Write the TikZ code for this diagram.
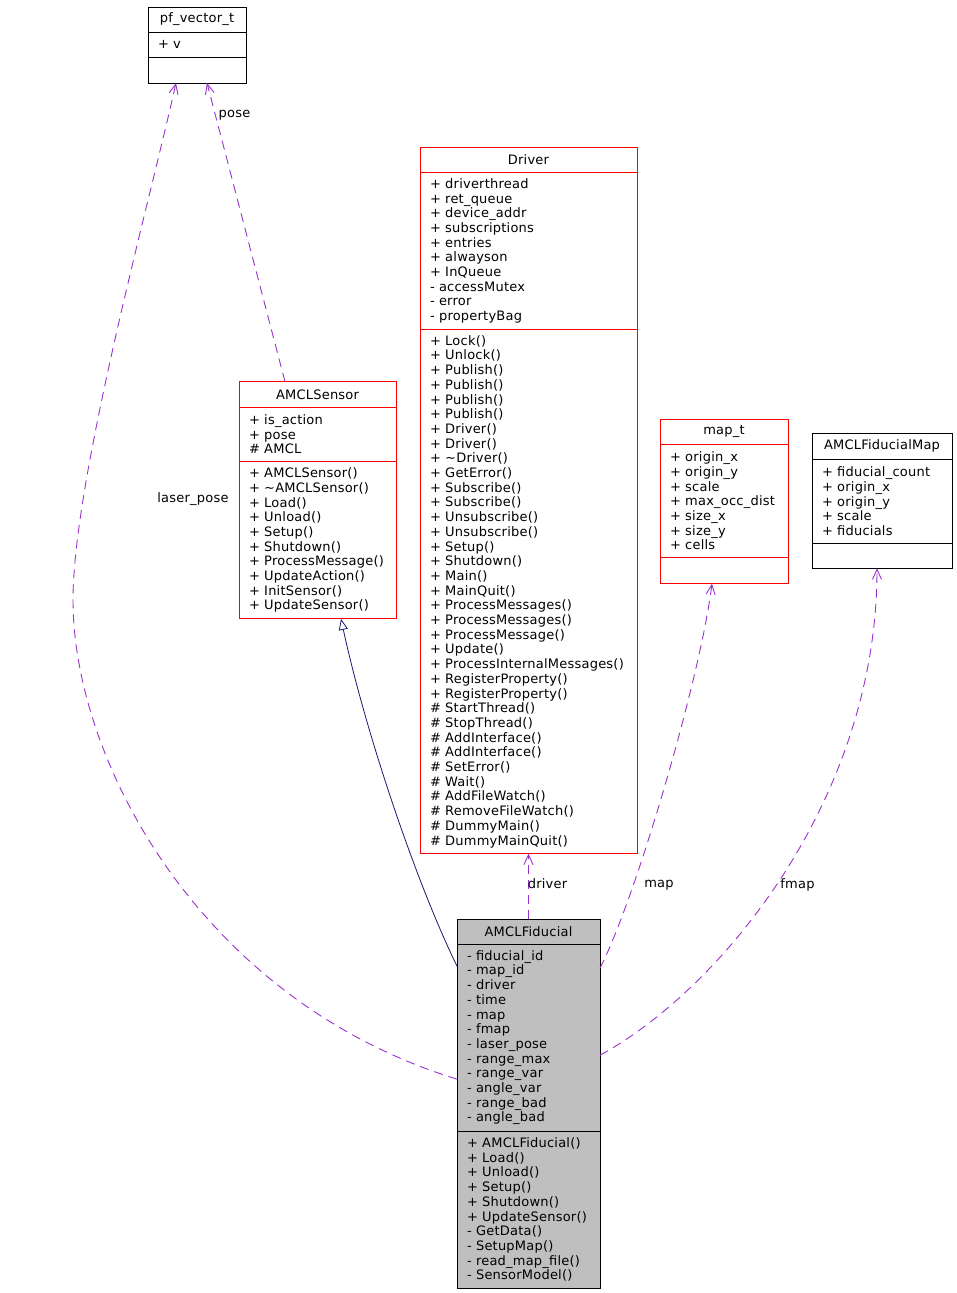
\documentclass[tikz,border=0pt]{standalone}
\usepackage{fontspec}
\setmainfont{DejaVu Sans}[LetterSpace=1.7]
\usetikzlibrary{arrows.meta,positioning}
\definecolor{edgePurple}{RGB}{154,50,205}
\definecolor{inheritBlue}{RGB}{25,25,112}
\definecolor{classRed}{RGB}{255,0,0}
\definecolor{focusGray}{RGB}{191,191,191}
\newcommand{\classfont}{\fontsize{13}{14.7}\selectfont}
\tikzset{
  part/.style={
    draw,
    line width=1pt,
    outer sep=0pt,
    inner xsep=10pt,
    inner ysep=0pt,
    align=left,
    font=\classfont
  },
  titlepart/.style={part, align=center, minimum height=25pt},
  redpart/.style={draw=classRed},
  focuspart/.style={fill=focusGray},
  usage/.style={
    draw=edgePurple,
    line width=0.9pt,
    dash pattern=on 9pt off 6pt,
    -{Straight Barb[length=10pt,width=9pt]}
  },
  inherit/.style={
    draw=inheritBlue,
    line width=0.8pt,
    -{Triangle[open,length=11pt,width=9pt]}
  },
  edgelabel/.style={font=\classfont, inner sep=0pt}
}

\begin{document}
\begin{tikzpicture}[x=1pt,y=-1pt]
  \useasboundingbox (0,0) rectangle (956,1293);

  \node[titlepart, text width=78pt, anchor=north west] (pfT) at (148,7) {pf\_vector\_t};
  \node[part, text width=78pt, minimum height=25pt, below=0pt of pfT] (pfA) {+ v};
  \node[part, text width=78pt, minimum height=26pt, below=0pt of pfA] (pfM) {};

  \node[titlepart, redpart, text width=137pt, minimum height=25.5pt, anchor=north west] (senT) at (239,381.7) {AMCLSensor};
  \node[part, redpart, text width=137pt, minimum height=54.4pt, below=0pt of senT] (senA)
    {+ is\_action\\+ pose\\\# AMCL};
  \node[part, redpart, text width=137pt, minimum height=157.3pt, below=0pt of senA] (senM)
    {+ AMCLSensor()\\+ \textasciitilde AMCLSensor()\\+ Load()\\+ Unload()\\+ Setup()\\+ Shutdown()\\+ ProcessMessage()\\+ UpdateAction()\\+ InitSensor()\\+ UpdateSensor()};

  \node[titlepart, redpart, text width=197pt, anchor=north west] (drvT) at (420,147.3) {Driver};
  \node[part, redpart, text width=197pt, minimum height=157.3pt, below=0pt of drvT] (drvA)
    {+ driverthread\\+ ret\_queue\\+ device\_addr\\+ subscriptions\\+ entries\\+ alwayson\\+ InQueue\\- accessMutex\\- error\\- propertyBag};
  \node[part, redpart, text width=197pt, minimum height=524pt, below=0pt of drvA] (drvM)
    {+ Lock()\\+ Unlock()\\+ Publish()\\+ Publish()\\+ Publish()\\+ Publish()\\+ Driver()\\+ Driver()\\+ \textasciitilde Driver()\\+ GetError()\\+ Subscribe()\\+ Subscribe()\\+ Unsubscribe()\\+ Unsubscribe()\\+ Setup()\\+ Shutdown()\\+ Main()\\+ MainQuit()\\+ ProcessMessages()\\+ ProcessMessages()\\+ ProcessMessage()\\+ Update()\\+ ProcessInternalMessages()\\+ RegisterProperty()\\+ RegisterProperty()\\\# StartThread()\\\# StopThread()\\\# AddInterface()\\\# AddInterface()\\\# SetError()\\\# Wait()\\\# AddFileWatch()\\\# RemoveFileWatch()\\\# DummyMain()\\\# DummyMainQuit()};

  \node[titlepart, redpart, text width=108pt, anchor=north west] (mapT) at (660,419.3) {map\_t};
  \node[part, redpart, text width=108pt, minimum height=113.2pt, below=0pt of mapT] (mapA)
    {+ origin\_x\\+ origin\_y\\+ scale\\+ max\_occ\_dist\\+ size\_x\\+ size\_y\\+ cells};
  \node[part, redpart, text width=108pt, minimum height=26pt, below=0pt of mapA] (mapM) {};

  \node[titlepart, text width=120pt, minimum height=26pt, anchor=north west] (fmT) at (812,433.3) {AMCLFiducialMap};
  \node[part, text width=120pt, minimum height=84pt, below=0pt of fmT] (fmA)
    {+ fiducial\_count\\+ origin\_x\\+ origin\_y\\+ scale\\+ fiducials};
  \node[part, text width=120pt, minimum height=25pt, below=0pt of fmA] (fmM) {};

  \node[titlepart, focuspart, text width=123pt, anchor=north west] (fidT) at (457,919.3) {AMCLFiducial};
  \node[part, focuspart, text width=123pt, minimum height=186.7pt, below=0pt of fidT] (fidA)
    {- fiducial\_id\\- map\_id\\- driver\\- time\\- map\\- fmap\\- laser\_pose\\- range\_max\\- range\_var\\- angle\_var\\- range\_bad\\- angle\_bad};
  \node[part, focuspart, text width=123pt, minimum height=157.3pt, below=0pt of fidA] (fidM)
    {+ AMCLFiducial()\\+ Load()\\+ Unload()\\+ Setup()\\+ Shutdown()\\+ UpdateSensor()\\- GetData()\\- SetupMap()\\- read\_map\_file()\\- SensorModel()};

  \draw[inherit] ([yshift=71.5pt]fidA.west) .. controls (415,880) and (365,730) .. ([xshift=23.5pt]senM.south);
  \draw[usage] ([yshift=-41.5pt]fidA.west) .. controls (200,1000) and (73,760) .. (73,600)
    .. controls (73,480) and (150,200) .. ([xshift=-21pt]pfM.south);
  \draw[usage] ([xshift=-32.5pt]senT.north) -- ([xshift=10pt]pfM.south);
  \draw[usage] (fidT.north) -- (drvM.south);
  \draw[usage] ([yshift=69.5pt]fidA.east) .. controls (635,900) and (700,680) .. ([xshift=-12pt]mapM.south);
  \draw[usage] ([yshift=-17.5pt]fidA.east) .. controls (720,990) and (877,800) .. ([xshift=-5pt]fmM.south);

  \node[edgelabel] (lblLaser) at (193,499) {laser\_pose};
  \node[edgelabel] (lblPose) at (234.5,115) {pose};
  \node[edgelabel] (lblDriver) at (547.5,884) {driver};
  \node[edgelabel] (lblMap) at (659,885) {map};
  \node[edgelabel] (lblFmap) at (797.5,885) {fmap};
\end{tikzpicture}
\end{document}
